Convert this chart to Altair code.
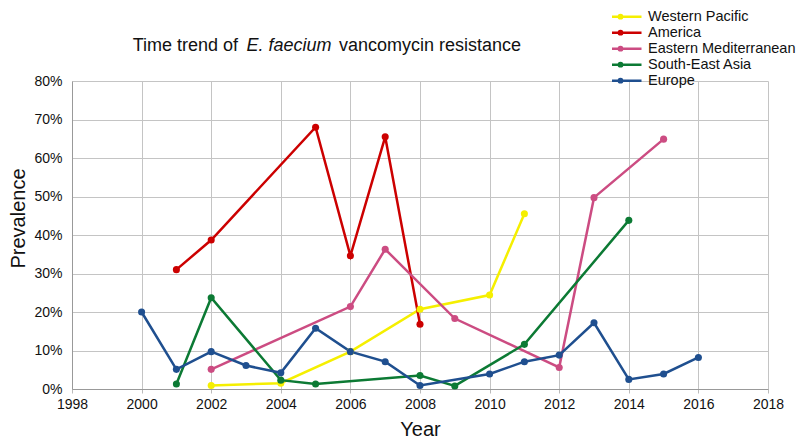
import altair as alt
import pandas as pd

regions = ["Western Pacific", "America", "Eastern Mediterranean", "South-East Asia", "Europe"]
colors = ["#f5ef00", "#cc0000", "#cc4c82", "#0c7a34", "#1f4f8f"]

wp_years = [2002, 2004, 2006, 2008, 2010, 2011]
wp_vals = [0.9, 1.5, 9.7, 20.7, 24.4, 45.5]

am_years = [2001, 2002, 2005, 2006, 2007, 2008]
am_vals = [31.0, 38.7, 68.0, 34.6, 65.5, 16.8]

em_years = [2002, 2006, 2007, 2009, 2012, 2013, 2015]
em_vals = [5.1, 21.4, 36.3, 18.3, 5.6, 49.7, 64.9]

sea_years = [2001, 2002, 2004, 2005, 2008, 2009, 2011, 2014]
sea_vals = [1.3, 23.7, 2.3, 1.3, 3.5, 0.8, 11.6, 43.8]

eu_years = [2000, 2001, 2002, 2003, 2004, 2005, 2006, 2007, 2008, 2010, 2011, 2012, 2013, 2014, 2015, 2016]
eu_vals = [20.0, 5.1, 9.7, 6.1, 4.2, 15.8, 9.7, 7.1, 0.9, 3.9, 7.1, 8.8, 17.2, 2.5, 3.9, 8.2]

x_ticks = list(range(1998, 2019, 2))
y_ticks = [i / 10 for i in range(0, 9)]

rows = []
for name, ys, vs in [
    ("Western Pacific", wp_years, wp_vals),
    ("America", am_years, am_vals),
    ("Eastern Mediterranean", em_years, em_vals),
    ("South-East Asia", sea_years, sea_vals),
    ("Europe", eu_years, eu_vals),
]:
    for y, v in zip(ys, vs):
        rows.append({"Region": name, "Year": y, "Prevalence": v / 100.0})
df = pd.DataFrame(rows)

FONT = "Liberation Sans"
# line with a small dot in the middle, extends beyond the unit box
sym = "M-3,0H3M-0.24,0A0.24,0.24,0,1,0,0.24,0A0.24,0.24,0,1,0,-0.24,0"

color = alt.Color(
    "Region:N",
    scale=alt.Scale(domain=regions, range=colors),
    legend=alt.Legend(
        title=None,
        orient="none",
        legendX=540,
        legendY=-71,
        symbolType=sym,
        symbolSize=196,
        symbolStrokeWidth=2.5,
        labelFont=FONT,
        labelFontSize=14.5,
        labelColor="#111111",
        labelOffset=19,
        clipHeight=13.3,
        rowPadding=0,
        padding=0,
    ),
    sort=regions,
)

x = alt.X(
    "Year:Q",
    scale=alt.Scale(domain=[1998, 2018], nice=False),
    axis=alt.Axis(
        values=x_ticks,
        format="d",
        title="Year",
        titleFontSize=20,
        titleFontWeight="normal",
        titleFont=FONT,
        titleColor="#111111",
        titleY=46,
        titleBaseline="alphabetic",
        labelFont=FONT,
        labelFontSize=14,
        labelColor="#111111",
        labelPadding=4,
        tickSize=4,
        tickColor="#bbbbbb",
        domainColor="#999999",
        gridColor="#c4c4c4",
        labelFlush=False,
    ),
)
y = alt.Y(
    "Prevalence:Q",
    scale=alt.Scale(domain=[0, 0.8], nice=False),
    axis=alt.Axis(
        values=y_ticks,
        format=".0%",
        title="Prevalence",
        titleFontSize=20,
        titleFontWeight="normal",
        titleFont=FONT,
        titleColor="#111111",
        titleX=-48,
        titleY=137,
        titleBaseline="alphabetic",
        labelFont=FONT,
        labelFontSize=14,
        labelColor="#111111",
        labelPadding=10,
        tickSize=0,
        domainColor="#999999",
        gridColor="#c4c4c4",
        labelFlush=False,
    ),
)

base = alt.Chart(df)
lines = base.mark_line(strokeWidth=2.5).encode(x=x, y=y, color=color, detail="Region:N")
points = base.mark_point(filled=True, size=50, opacity=1).encode(x=x, y=y, color=color)

t1 = alt.Chart(pd.DataFrame({"t": ["Time trend of"]})).mark_text(
    font=FONT, fontSize=18, align="right", baseline="alphabetic", color="#111111"
).encode(x=alt.value(166), y=alt.value(-30), text="t:N")
t2 = alt.Chart(pd.DataFrame({"t": ["E. faecium"]})).mark_text(
    font=FONT, fontSize=18, fontStyle="italic", align="left", baseline="alphabetic", color="#111111"
).encode(x=alt.value(174.5), y=alt.value(-30), text="t:N")
t3 = alt.Chart(pd.DataFrame({"t": ["vancomycin resistance"]})).mark_text(
    font=FONT, fontSize=18, align="left", baseline="alphabetic", color="#111111"
).encode(x=alt.value(267), y=alt.value(-30), text="t:N")

chart = alt.layer(lines, points, t1, t2, t3).properties(
    width=696,
    height=308,
    autosize=alt.AutoSizeParams(type="none"),
    padding={"left": 64, "top": 73, "right": 34, "bottom": 52},
).configure_view(stroke=None)

chart.save("out.html", embed_options={"renderer": "svg", "actions": False})
